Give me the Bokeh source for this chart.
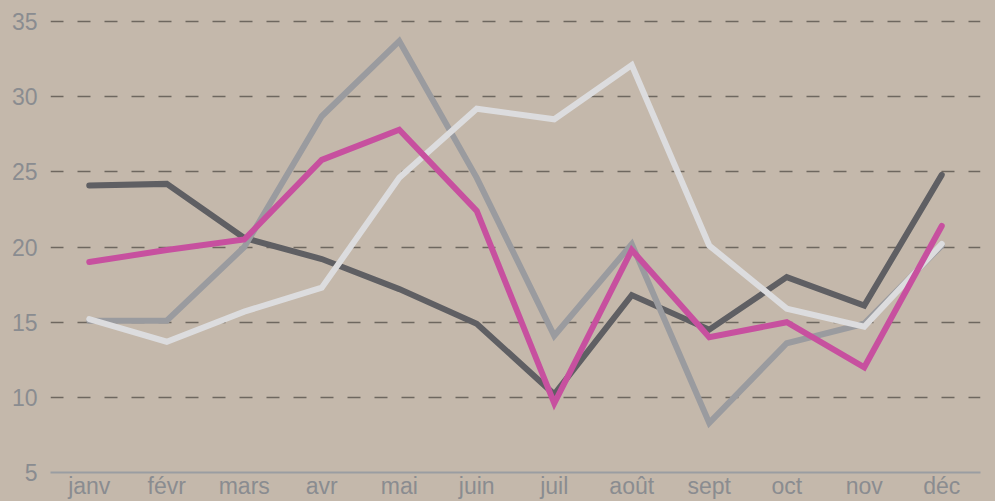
from bokeh.plotting import figure
from bokeh.models import FactorRange, Range1d, FixedTicker
from bokeh.embed import file_html
from bokeh.resources import INLINE

months = ["janv", "févr", "mars", "avr", "mai", "juin", "juil", "août", "sept", "oct", "nov", "déc"]
series_dark = [24.1, 24.2, 20.6, 19.2, 17.2, 14.9, 10.2, 16.8, 14.5, 18.0, 16.1, 24.8]
series_mid = [15.1, 15.1, 20.0, 28.7, 33.7, 24.6, 14.1, 20.2, 8.3, 13.6, 14.9, 20.1]
series_light = [15.2, 13.7, 15.7, 17.3, 24.6, 29.2, 28.5, 32.1, 20.1, 15.9, 14.7, 20.2]
series_pink = [19.0, 19.8, 20.5, 25.8, 27.8, 22.4, 9.6, 19.8, 14.0, 15.0, 12.0, 21.4]
y_ticks = [5, 10, 15, 20, 25, 30, 35]

bg = "#c4b8ab"
p = figure(width=995, height=501, x_range=FactorRange(*months), y_range=Range1d(5, 36.4),
           output_backend="svg", toolbar_location=None,
           background_fill_color=bg, border_fill_color=bg, outline_line_color=None,
           min_border_left=50, min_border_right=15, min_border_top=0, min_border_bottom=0)
p.x_range.range_padding = 0

p.xgrid.grid_line_color = None
p.ygrid.ticker = FixedTicker(ticks=y_ticks[1:])
p.ygrid.grid_line_color = "#6e675f"
p.ygrid.grid_line_width = 1.6
p.ygrid.grid_line_dash = "13 14"

p.yaxis.ticker = FixedTicker(ticks=y_ticks)
p.yaxis.axis_line_color = None
p.yaxis.major_tick_line_color = None
p.yaxis.minor_tick_line_color = None
p.yaxis.major_tick_out = 0
p.yaxis.major_tick_in = 0
p.yaxis.minor_tick_out = 0
p.yaxis.major_label_standoff = 13
p.yaxis.major_label_text_font = "Liberation Sans"
p.yaxis.major_label_text_font_size = "23px"
p.yaxis.major_label_text_color = "#8a8c90"

p.xaxis.axis_line_color = "#9a9da2"
p.xaxis.axis_line_width = 2
p.xaxis.major_tick_line_color = None
p.xaxis.minor_tick_line_color = None
p.xaxis.major_tick_out = 0
p.xaxis.major_tick_in = 0
p.xaxis.minor_tick_out = 0
p.xaxis.major_label_standoff = 0
p.xaxis.major_label_text_font = "Liberation Sans"
p.xaxis.major_label_text_font_size = "23px"
p.xaxis.major_label_text_color = "#8a8c90"

for data, color in [(series_dark, "#5f5f63"), (series_mid, "#9a9b9f"),
                    (series_light, "#dcdcde"), (series_pink, "#c7509f")]:
    p.line(months, data, line_color=color, line_width=6, line_join="miter", line_cap="round")

html = file_html(p, INLINE)
html = html.replace("<head>", "<head><style>html,body{background:%s;overflow:hidden;}</style>" % bg, 1)
open("out.html", "w").write(html)
